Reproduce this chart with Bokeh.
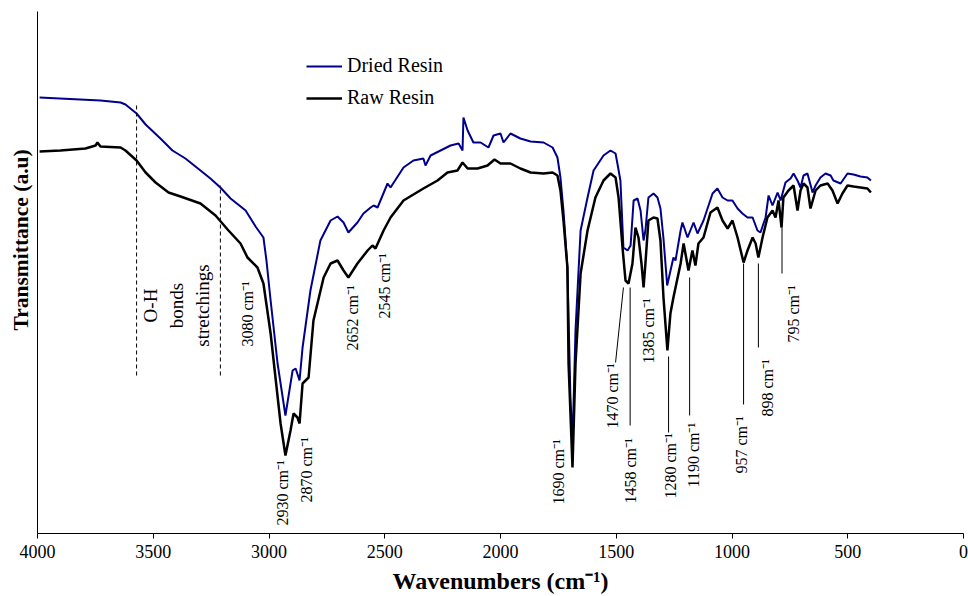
import numpy as np
from bokeh.plotting import figure
from bokeh.models import Range1d, FixedTicker, Legend, LegendItem, Title
from bokeh.core.properties import value
from bokeh.embed import file_html
from bokeh.resources import INLINE

# ---------------- data ----------------
x_ticks = [4000, 3500, 3000, 2500, 2000, 1500, 1000, 500, 0]

dried_wn = [3991, 3728, 3641, 3620, 3572, 3533, 3469, 3417, 3361, 3296,
            3253, 3210, 3166, 3101, 3058, 3024, 3011, 2993, 2963, 2929,
            2898, 2885, 2868, 2855, 2821, 2778, 2734, 2704, 2678, 2657,
            2618, 2592, 2561, 2548, 2531, 2488, 2475, 2419, 2376, 2333,
            2324, 2302, 2259, 2216, 2181, 2164, 2160, 2142, 2117, 2086,
            2052, 2030, 2000, 1987, 1957, 1914, 1870, 1814, 1775, 1754,
            1741, 1728, 1711, 1698, 1689, 1676, 1654, 1624, 1598, 1555,
            1525, 1503, 1495, 1482, 1469, 1451, 1438, 1425, 1408, 1395,
            1382, 1374, 1361, 1339, 1322, 1309, 1296, 1280, 1253, 1244,
            1222, 1214, 1192, 1166, 1149, 1123, 1084, 1063, 1041, 1019,
            998, 976, 955, 933, 911, 890, 877, 855, 842, 825,
            803, 790, 769, 747, 734, 717, 704, 691, 674, 652,
            639, 618, 596, 574, 562, 531, 501, 475, 445, 415,
            400]
dried_t = [436, 433, 431, 429, 420, 409, 395, 383, 375, 363,
           355, 346, 335, 323, 307, 296, 273, 233, 170, 118,
           163, 165, 153, 186, 243, 293, 313, 317, 311, 301,
           311, 320, 326, 328, 326, 350, 346, 366, 373, 375,
           368, 378, 383, 388, 390, 383, 416, 403, 391, 391,
           386, 398, 400, 391, 400, 395, 392, 391, 386, 376,
           356, 323, 266, 136, 90, 203, 303, 336, 363, 378,
           383, 380, 370, 353, 286, 283, 288, 333, 335, 323,
           293, 303, 336, 340, 336, 325, 295, 248, 276, 273,
           303, 311, 296, 311, 300, 313, 340, 345, 336, 333,
           333, 325, 320, 316, 316, 303, 301, 316, 338, 328,
           341, 333, 351, 355, 360, 353, 346, 358, 360, 341,
           348, 356, 360, 358, 353, 350, 360, 359, 357, 356,
           353]

raw_wn = [3991, 3901, 3793, 3749, 3741, 3728, 3641, 3620, 3572, 3533,
          3490, 3434, 3382, 3296, 3231, 3175, 3123, 3093, 3050, 3024,
          2993, 2972, 2950, 2929, 2907, 2894, 2877, 2868, 2855, 2829,
          2808, 2764, 2734, 2704, 2678, 2657, 2618, 2574, 2553, 2540,
          2505, 2475, 2419, 2333, 2272, 2229, 2186, 2164, 2142, 2099,
          2056, 2026, 2000, 1957, 1914, 1870, 1814, 1775, 1754, 1741,
          1728, 1711, 1706, 1689, 1676, 1654, 1624, 1590, 1555, 1525,
          1503, 1490, 1473, 1460, 1447, 1430, 1417, 1404, 1391, 1382,
          1374, 1361, 1339, 1322, 1309, 1296, 1279, 1266, 1253, 1222,
          1209, 1188, 1171, 1158, 1145, 1123, 1093, 1063, 1041, 1019,
          998, 976, 950, 933, 911, 898, 886, 868, 847, 825,
          812, 799, 786, 778, 756, 734, 717, 704, 691, 674,
          661, 639, 618, 587, 566, 544, 523, 501, 475, 445,
          415, 400]
raw_t = [382, 383, 385, 388, 391, 387, 386, 383, 373, 361,
         351, 341, 337, 330, 318, 303, 290, 276, 266, 250,
         200, 156, 110, 78, 103, 120, 116, 110, 150, 156,
         213, 256, 270, 273, 263, 256, 270, 283, 288, 285,
         303, 316, 333, 345, 353, 361, 363, 371, 365, 365,
         368, 374, 370, 370, 365, 361, 360, 361, 358, 343,
         313, 266, 170, 66, 170, 260, 303, 336, 353, 360,
         356, 336, 286, 253, 250, 270, 306, 296, 270, 246,
         270, 313, 316, 315, 293, 236, 183, 220, 236, 270,
         290, 263, 283, 268, 290, 296, 321, 326, 313, 305,
         313, 296, 271, 283, 296, 290, 276, 296, 316, 323,
         316, 333, 306, 336, 343, 348, 323, 343, 350, 346,
         325, 343, 348, 350, 343, 330, 340, 348, 347, 346,
         345, 341]

# peak labels (text, anchor wavenumber, anchor transmittance)
peak_text = ["3080 cm⁻¹", "2930 cm⁻¹", "2870 cm⁻¹", "2652 cm⁻¹", "2545 cm⁻¹",
             "1690 cm⁻¹", "1470 cm⁻¹", "1458 cm⁻¹", "1385 cm⁻¹", "1280 cm⁻¹",
             "1190 cm⁻¹", "957 cm⁻¹", "898 cm⁻¹", "795 cm⁻¹"]
peak_x = [3093, 2942, 2838, 2639, 2501, 1750, 1516, 1438, 1361, 1266,
          1166, 959, 847, 734]
peak_y = [187, 8, 31, 183, 215, 29, 105, 30, 170, 35, 46, 60, 117, 191]

# leader lines to peaks
lead_x0 = [1503, 1440, 1274, 1183, 950, 886, 784]
lead_y0 = [171, 108, 101, 118, 129, 186, 260]
lead_x1 = [1469, 1440, 1274, 1183, 950, 886, 784]
lead_y1 = [246, 246, 177, 256, 270, 270, 306]

# O-H region bounds (dashed)
oh_x = [3572, 3210]
oh_y0 = [158, 158]
oh_y1 = [429, 348]
oh_text = ["O-H", "bonds", "stretchings"]
oh_tx = [3512, 3400, 3287]
oh_ty = [228, 228, 228]

FONT = "Liberation Serif"

p = figure(width=968, height=596, output_backend="svg", toolbar_location=None,
           x_range=Range1d(4000, 0), y_range=Range1d(0, 522),
           min_border_left=37, min_border_right=5, min_border_top=11,
           min_border_bottom=63)
p.outline_line_color = None
p.grid.visible = False

# x axis
p.xaxis.ticker = FixedTicker(ticks=x_ticks)
p.xaxis.minor_tick_line_color = None
p.xaxis.major_tick_in = 0
p.xaxis.major_tick_out = 5
p.xaxis.major_label_standoff = 6
p.xaxis.major_label_text_font = FONT
p.xaxis.major_label_text_font_size = "18px"
p.xaxis.major_label_text_color = "black"
p.xaxis.axis_line_color = "black"
p.xaxis.major_tick_line_color = "black"
p.xaxis.axis_label = "Wavenumbers (cm⁻¹)"
p.xaxis.axis_label_text_font = FONT
p.xaxis.axis_label_text_font_style = "bold"
p.xaxis.axis_label_text_font_size = "24px"
p.xaxis.axis_label_text_color = "black"
p.xaxis.axis_label_standoff = 7

# y axis (line only)
p.yaxis.ticker = FixedTicker(ticks=[])
p.yaxis.minor_tick_line_color = None
p.yaxis.major_tick_in = 0
p.yaxis.major_tick_out = 0
p.yaxis.major_label_text_font_size = "0px"
p.yaxis.axis_line_color = "black"

p.add_layout(Title(text="Transmittance (a.u)", align="left", offset=203,
                   standoff=10, text_font=FONT, text_font_style="bold",
                   text_font_size="21.5px", text_color="black"), "left")

# spectra
r_d = p.line(dried_wn, dried_t, line_color="#00008B", line_width=2)
r_r = p.line(raw_wn, raw_t, line_color="black", line_width=2.5)

# annotations
p.segment(oh_x, oh_y0, oh_x, oh_y1, line_color="black", line_width=1,
          line_dash="4 3")
p.segment(lead_x0, lead_y0, lead_x1, lead_y1, line_color="black", line_width=1)
p.text(x=oh_tx, y=oh_ty, text=oh_text, angle=np.pi / 2, text_align="center",
       text_baseline="middle", text_font=value(FONT), text_font_size="19px",
       text_color="black")
p.text(x=peak_x, y=peak_y, text=peak_text, angle=np.pi / 2, text_align="left",
       text_baseline="middle", text_font=value(FONT), text_font_size="16px",
       text_color="black")

legend = Legend(items=[LegendItem(label="Dried Resin", renderers=[r_d]),
                       LegendItem(label="Raw Resin", renderers=[r_r])],
                location=(269, 424), border_line_color=None,
                background_fill_alpha=0, padding=0, margin=0, spacing=9,
                glyph_width=36, glyph_height=20, label_height=20,
                label_standoff=5, label_text_font=FONT,
                label_text_font_size="20px", label_text_color="black")
p.add_layout(legend)

open("out.html", "w").write(file_html(p, INLINE))
